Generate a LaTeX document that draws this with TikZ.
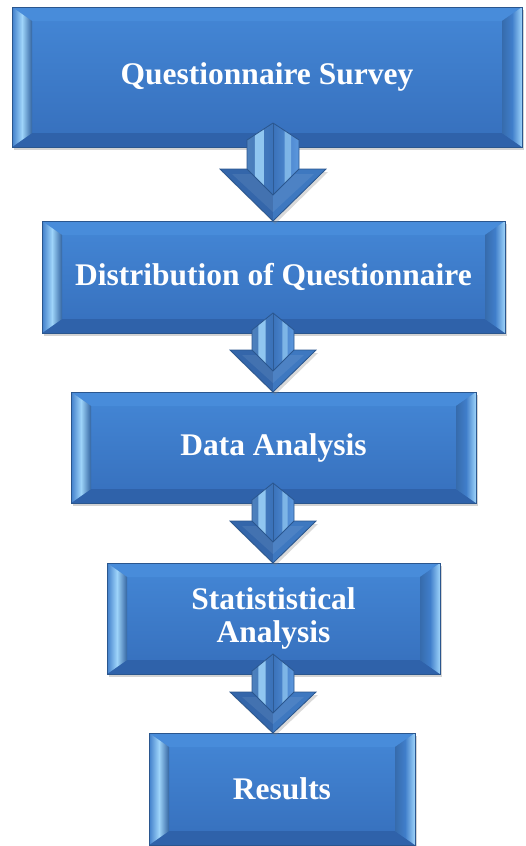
\documentclass[tikz,border=0pt]{standalone}
\usepackage{fontspec}
\setmainfont{Liberation Serif}
\usetikzlibrary{calc,shadows}

\definecolor{boxtop}{RGB}{68,135,214}
\definecolor{boxbot}{RGB}{54,111,188}
\definecolor{boxedge}{RGB}{42,86,142}
\definecolor{bevtop}{RGB}{72,140,218}
\definecolor{bevbot}{RGB}{47,98,170}
\definecolor{bevlight}{RGB}{158,212,250}
\definecolor{bevmid}{RGB}{64,126,202}
\definecolor{headleft}{RGB}{52,102,170}
\definecolor{headright}{RGB}{62,120,192}
\definecolor{shaftmid}{RGB}{58,114,186}
\definecolor{shaftside}{RGB}{92,152,222}

% the y axis points down here, so left/right shadings come out mirrored:
% "right color" is the colour seen on the left
\tikzset{
  stage/.style={draw=boxedge, line width=1pt, top color=boxtop, bottom color=boxbot,
    text=white, align=center, inner sep=0pt, outer sep=0pt,
    font=\bfseries\fontsize{31.5}{33}\selectfont,
    drop shadow={opacity=0.35, shadow xshift=2pt, shadow yshift=-3pt},
    path picture={
      % bevelled frame inside the box
      \path (path picture bounding box.north west) coordinate (o1)
            (path picture bounding box.north east) coordinate (o2)
            (path picture bounding box.south east) coordinate (o3)
            (path picture bounding box.south west) coordinate (o4);
      \coordinate (i1) at ($(o1)+(20pt,-14pt)$);
      \coordinate (i2) at ($(o2)+(-20pt,-14pt)$);
      \coordinate (i3) at ($(o3)+(-20pt,14pt)$);
      \coordinate (i4) at ($(o4)+(20pt,14pt)$);
      \fill[bevtop] (o1) -- (o2) -- (i2) -- (i1) -- cycle;
      \fill[bevbot] (o4) -- (o3) -- (i3) -- (i4) -- cycle;
      \shade[right color=bevmid!80!black, left color=bevmid, middle color=bevlight]
        (o1) -- (i1) -- (i4) -- (o4) -- cycle;
      \shade[right color=bevlight, left color=bevmid!85!black, middle color=bevmid]
        (o2) -- (i2) -- (i3) -- (o3) -- cycle;
    }},
  headshadow/.style={drop shadow={opacity=0.3, shadow xshift=2pt, shadow yshift=-3pt}},
}

\begin{document}
\begin{tikzpicture}[x=1pt, y=-1pt]
  \useasboundingbox (0,0) rectangle (525,846);

  \node[stage, minimum width=510pt, minimum height=140pt] (qs) at (267,77) {Questionnaire Survey};
  \node[stage, minimum width=463pt, minimum height=112pt] (dq) at (273.5,277) {Distribution of Questionnaire};
  \node[stage, minimum width=405pt, minimum height=111pt] (da) at (273.5,447.5) {Data Analysis};
  \node[stage, minimum width=333pt, minimum height=111pt] (sa) at (273.5,618.5) {Statististical\\ Analysis};
  \node[stage, minimum width=266pt, minimum height=112pt] (rs) at (282,789) {Results};

  % block arrows: shaft half width, head half width, roof drop, overlap, head length
  \coordinate (spine) at (273,0);
  \foreach \a/\b/\w/\hw/\r/\p/\l in {qs/dq/26/53/17/24/52, dq/da/21/43/17/20/42,
                                     da/sa/21/43/17/20/42, sa/rs/21/43/17/20/41}{
    \coordinate (tip) at (spine |- \b.north);
    \coordinate (top) at ($(spine |- \a.south)+(0,-\p)$);
    \coordinate (neck) at ($(tip)+(0,-\l)$);
    % head
    \fill[headleft, headshadow] ($(neck)+(-\hw,0)$) -- ($(neck)+(\hw,0)$) -- (tip) -- cycle;
    \fill[headright] (neck) -- ($(neck)+(\hw,0)$) -- (tip) -- cycle;
    \fill[white, opacity=0.08] ($(neck)+(-\hw+12,5)$) -- ($(neck)+(\hw-12,5)$) -- ($(tip)+(0,-9)$) -- cycle;
    \draw[boxedge, line width=0.8pt] ($(neck)+(-\hw,0)$) -- ($(neck)+(\hw,0)$) -- (tip) -- cycle;
    % shaft
    \shade[right color=shaftside, left color=shaftside!85!black, middle color=shaftmid]
      ($(top)+(-\w,\r)$) -- (top) -- ($(top)+(\w,\r)$) -- ($(neck)+(\w,0)$)
      -- ($(neck)+(0,\w)$) -- ($(neck)+(-\w,0)$) -- cycle;
    \fill[bevlight, opacity=0.85] ($(top)+(-0.7*\w,0.7*\r)$) -- ($(top)+(-0.35*\w,0.35*\r)$)
      -- ($(neck)+(-0.35*\w,0.65*\w)$) -- ($(neck)+(-0.7*\w,0.3*\w)$) -- cycle;
    \fill[bevlight!80!shaftmid, opacity=0.8] ($(top)+(0.45*\w,0.45*\r)$) -- ($(top)+(0.7*\w,0.7*\r)$)
      -- ($(neck)+(0.7*\w,0.3*\w)$) -- ($(neck)+(0.45*\w,0.55*\w)$) -- cycle;
    \draw[shaftmid!80!black, line width=0.6pt] (top) -- ($(neck)+(0,\w)$);
    \draw[boxedge, line width=0.8pt]
      ($(top)+(-\w,\r)$) -- (top) -- ($(top)+(\w,\r)$) -- ($(neck)+(\w,0)$)
      -- ($(neck)+(0,\w)$) -- ($(neck)+(-\w,0)$) -- cycle;
  }
\end{tikzpicture}
\end{document}
